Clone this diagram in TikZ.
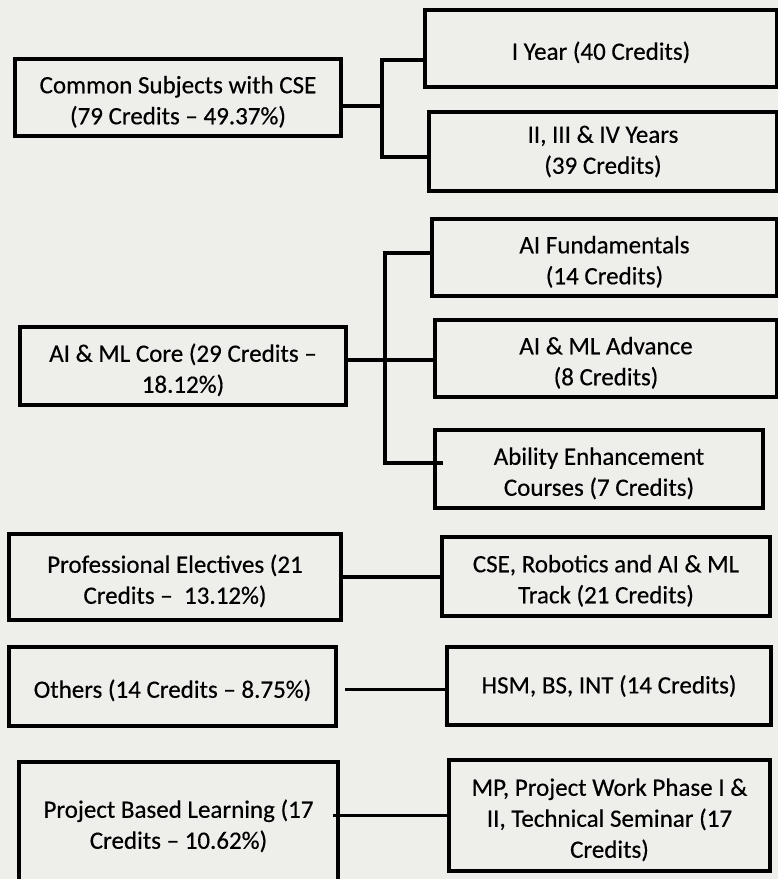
\documentclass[tikz,border=0pt]{standalone}
\usepackage{fontspec}
\setmainfont{Carlito}[FakeBold=0.4]
\definecolor{paper}{RGB}{238,238,235}
\newcommand\lift{\rule{0pt}{26pt}}

\begin{document}
\begin{tikzpicture}[x=1pt, y=-1pt,
    box/.style={draw, line width=3.5pt, align=center, inner sep=0pt,
        font=\fontsize{25}{31}\selectfont},
    link/.style={line width=3.5pt}]
    % Page
    \fill[paper] (0,0) rectangle (778,879);
    \useasboundingbox (0,0) rectangle (778,879);

    % Left column
    \node[box, minimum width=326, minimum height=77] (common) at (178,97.5)
        {\lift Common Subjects with CSE\\(79 Credits – 49.37\%)};
    \node[box, minimum width=326, minimum height=78] (core) at (183,366)
        {\lift AI \& ML Core (29 Credits –\\18.12\%)};
    \node[box, minimum width=332, minimum height=86] (elect) at (175,577)
        {\lift Professional Electives (21\\Credits – \ 13.12\%)};
    \node[box, minimum width=327, minimum height=79] (others) at (172.5,686.5)
        {\lift Others (14 Credits – 8.75\%)};
    \node[box, minimum width=319, minimum height=120] (pbl) at (178.5,822)
        {\lift Project Based Learning (17\\Credits – 10.62\%)};

    % Right column
    \node[box, minimum width=352, minimum height=77] (year1) at (601,48.5)
        {\lift I Year (40 Credits)};
    \node[box, minimum width=348, minimum height=79] (years) at (603,151.5)
        {II, III \& IV Years\\(39 Credits)};
    \node[box, minimum width=345, minimum height=77] (fund) at (604.5,257.5)
        {\lift AI Fundamentals\\(14 Credits)};
    \node[box, minimum width=342, minimum height=77] (adv) at (606,358.5)
        {\lift AI \& ML Advance\\(8 Credits)};
    \node[box, minimum width=328, minimum height=78] (abil) at (599,469)
        {\lift Ability Enhancement\\Courses (7 Credits)};
    \node[box, minimum width=328, minimum height=79] (track) at (606,576.5)
        {\lift CSE, Robotics and AI \& ML\\Track (21 Credits)};
    \node[box, minimum width=324, minimum height=78] (hsm) at (609,686)
        {HSM, BS, INT (14 Credits)};
    \node[box, minimum width=321, minimum height=111] (proj) at (609.5,815.5)
        {\lift MP, Project Work Phase I \&\\II, Technical Seminar (17\\Credits)};

    % Bracket for common subjects
    \coordinate (b1top) at (382,60);
    \coordinate (b1mid) at (382,106);
    \coordinate (b1bot) at (382,157);
    \draw[link] (common.east |- b1mid) -- (b1mid);
    \draw[link] (year1.west |- b1top) -- (b1top) -- (b1bot) -- (years.west |- b1bot);

    % Bracket for core
    \coordinate (b2top) at (385,253);
    \coordinate (b2mid) at (385,360);
    \coordinate (b2bot) at (385,463);
    \draw[link] (core.east |- b2mid) -- (adv.west |- b2mid);
    \draw[link] (fund.west |- b2top) -- (b2top) -- (b2bot) -- ([xshift=10]abil.west |- b2bot);

    % Single links
    \coordinate (oth) at ([xshift=7,yshift=-3]others.east);
    \draw[link] (elect.east) -- (track.west |- elect.east);
    \draw[link] (oth) -- (hsm.west |- oth);
    \draw[link] ([xshift=-7]pbl.east |- proj.west) -- (proj.west);
\end{tikzpicture}
\end{document}
